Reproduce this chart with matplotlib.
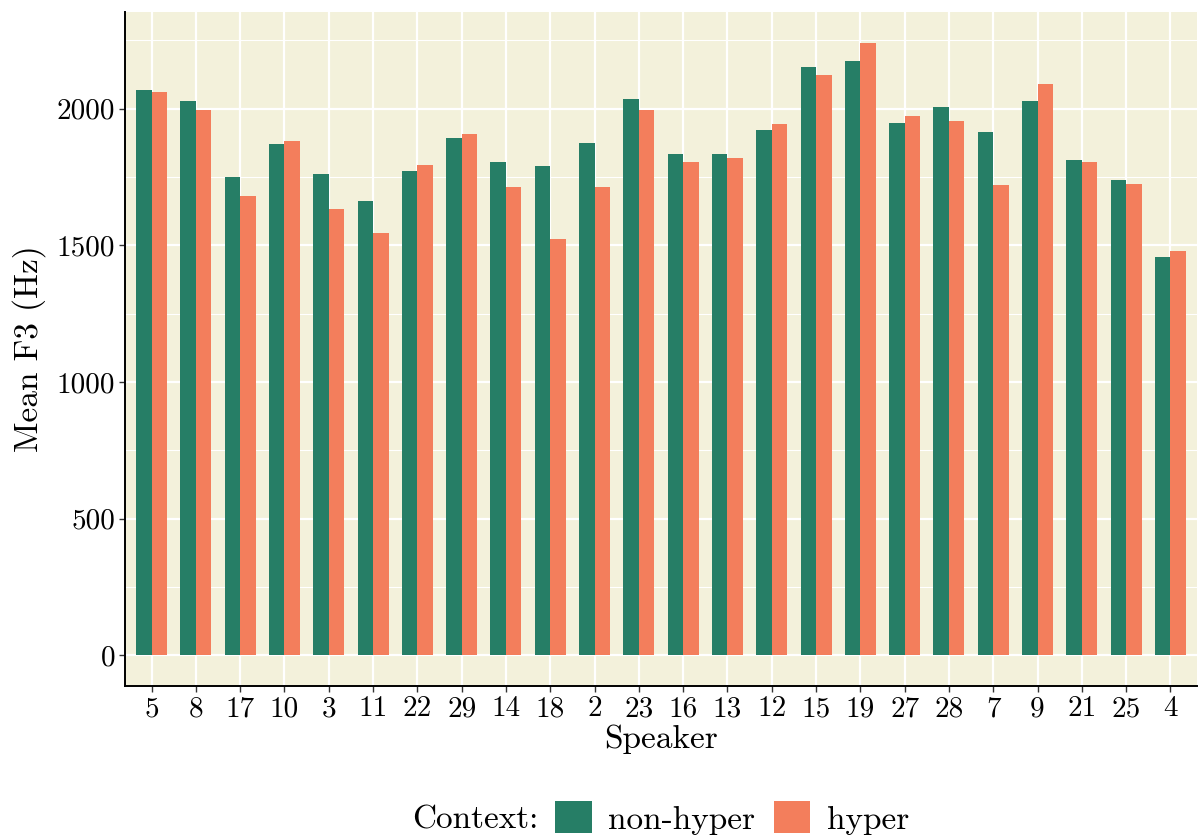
import numpy as np
import matplotlib.pyplot as plt
from matplotlib.patches import Patch

# data
speakers = ['5', '8', '17', '10', '3', '11', '22', '29', '14', '18', '2', '23',
            '16', '13', '12', '15', '19', '27', '28', '7', '9', '21', '25', '4']
non_hyper = [2068, 2027, 1751, 1872, 1761, 1662, 1773, 1894, 1807, 1791, 1876, 2035,
             1836, 1833, 1924, 2152, 2173, 1947, 2005, 1914, 2030, 1813, 1740, 1458]
hyper = [2060, 1997, 1679, 1881, 1635, 1546, 1796, 1908, 1714, 1522, 1714, 1997,
         1807, 1819, 1946, 2124, 2242, 1975, 1956, 1722, 2089, 1806, 1725, 1478]
yticks = [0, 500, 1000, 1500, 2000]
yminor = [250, 750, 1250, 1750, 2250]

green = '#267E66'
orange = '#F37E5C'
panel = '#F3F1DB'

plt.rcParams['font.family'] = ['cmr10', 'DejaVu Serif']
plt.rcParams['mathtext.fontset'] = 'cm'
plt.rcParams['axes.unicode_minus'] = False

fig = plt.figure(figsize=(12, 8.4), dpi=100)
ax = fig.add_axes([125 / 1200, 154 / 840, 1072 / 1200, 674 / 840])
ax.set_facecolor(panel)

x = np.arange(1, len(speakers) + 1)
w = 0.35
ax.bar(x - w / 2, non_hyper, w, color=green, zorder=3)
ax.bar(x + w / 2, hyper, w, color=orange, zorder=3)

ax.set_xlim(0.4, len(speakers) + 0.6)
ax.set_ylim(-112, 2354)
ax.set_xticks(x)
ax.set_xticklabels(speakers, fontsize=21)
ax.set_yticks(yticks)
ax.set_yticklabels([str(v) for v in yticks], fontsize=21)
ax.set_yticks(yminor, minor=True)

ax.grid(which='major', color='white', lw=1.6, zorder=0)
ax.grid(which='minor', axis='y', color='white', lw=0.8, zorder=0)
ax.set_axisbelow(True)
ax.tick_params(which='minor', length=0)
ax.tick_params(which='major', length=4, width=1, color='#333333', pad=3)

for s in ['top', 'right']:
    ax.spines[s].set_visible(False)
for s in ['left', 'bottom']:
    ax.spines[s].set_linewidth(1.4)
    ax.spines[s].set_color('black')

ax.set_xlabel('Speaker', fontsize=24, labelpad=2)
ax.set_ylabel('Mean F3 (Hz)', fontsize=24, labelpad=8)

fig.text(475 / 1200, 1 - 820 / 840, 'Context:', fontsize=24, ha='center', va='center')
handles = [Patch(facecolor=green, label='non-hyper'),
           Patch(facecolor=orange, label='hyper')]
fig.legend(handles=handles, ncol=2, loc='center', bbox_to_anchor=(732 / 1200, 1 - 818 / 840),
           frameon=False, fontsize=24, handlelength=1.1, handleheight=1.1,
           handletextpad=0.5, columnspacing=0.55, borderpad=0)

fig.savefig('out.png', dpi=100)
